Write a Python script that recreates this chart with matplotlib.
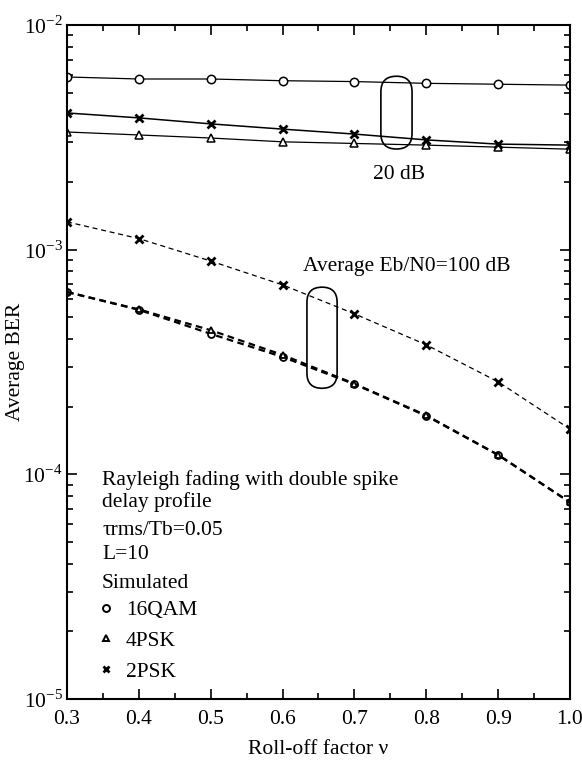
import math
import matplotlib
matplotlib.use("Agg")
import matplotlib.pyplot as plt
from matplotlib.lines import Line2D
from matplotlib.patches import FancyBboxPatch
from matplotlib.ticker import LogLocator, FixedLocator, FuncFormatter, NullFormatter

plt.rcParams['font.family'] = ['Liberation Serif', 'DejaVu Serif']
plt.rcParams['mathtext.fontset'] = 'custom'
plt.rcParams['mathtext.rm'] = 'Liberation Serif'

rolloff = [0.3, 0.4, 0.5, 0.6, 0.7, 0.8, 0.9, 1.0]

# Average Eb/N0 = 20 dB
qam16_20 = [5.87e-3, 5.75e-3, 5.75e-3, 5.65e-3, 5.6e-3, 5.5e-3, 5.45e-3, 5.4e-3]
psk4_20 = [3.34e-3, 3.24e-3, 3.14e-3, 3.02e-3, 2.97e-3, 2.92e-3, 2.86e-3, 2.8e-3]
psk2_20 = [4.06e-3, 3.86e-3, 3.63e-3, 3.44e-3, 3.27e-3, 3.08e-3, 2.95e-3, 2.92e-3]

# Average Eb/N0 = 100 dB
qam16_100 = [6.48e-4, 5.4e-4, 4.22e-4, 3.33e-4, 2.52e-4, 1.82e-4, 1.22e-4, 7.5e-5]
psk4_100 = [6.48e-4, 5.42e-4, 4.38e-4, 3.4e-4, 2.53e-4, 1.83e-4, 1.22e-4, 7.5e-5]
psk2_100 = [1.33e-3, 1.12e-3, 8.9e-4, 6.97e-4, 5.18e-4, 3.77e-4, 2.58e-4, 1.59e-4]

legend_labels = ['16QAM', '4PSK', '2PSK']
xticks = [0.3, 0.4, 0.5, 0.6, 0.7, 0.8, 0.9, 1.0]

FS = 15.5

fig = plt.figure(figsize=(5.82, 7.6), dpi=100)
ax = fig.add_axes([0.1151, 0.0803, 0.8643, 0.8868])

mk = dict(markerfacecolor='white', markeredgecolor='black', color='black')
# 20 dB solid
ax.plot(rolloff, qam16_20, '-', marker='o', ms=6, mew=1.1, lw=0.9, **mk)
ax.plot(rolloff, psk4_20, '-', marker='^', ms=6, mew=1.1, lw=0.9, **mk)
ax.plot(rolloff, psk2_20, '-', marker='x', ms=6, mew=2.0, lw=1.1, color='black')
# 100 dB dashed
ax.plot(rolloff, psk2_100, '--', marker='x', ms=6, mew=2.0, lw=0.9, color='black', dashes=(4, 3))
ax.plot(rolloff, qam16_100, '--', marker='o', ms=5, mew=1.3, lw=1.6, dashes=(3, 2), **mk)
ax.plot(rolloff, psk4_100, '--', marker='^', ms=5, mew=1.3, lw=1.6, dashes=(3, 2), **mk)

ax.set_yscale('log')
ax.set_ylim(1e-5, 1e-2)
ax.set_xlim(0.3, 1.0)
ax.xaxis.set_major_locator(FixedLocator(xticks))
ax.xaxis.set_minor_locator(FixedLocator([0.35, 0.45, 0.55, 0.65, 0.75, 0.85, 0.95]))
ax.xaxis.set_major_formatter(FuncFormatter(lambda v, p: f"{v:.1f}"))
ax.yaxis.set_major_locator(LogLocator(base=10, numticks=10))
ax.yaxis.set_minor_locator(LogLocator(base=10, subs=range(2, 10), numticks=20))
ax.yaxis.set_minor_formatter(NullFormatter())
ax.yaxis.set_major_formatter(FuncFormatter(lambda v, p: r"$\mathrm{10}^{%d}$" % round(math.log10(v))))
ax.tick_params(which='both', direction='in', top=True, right=True, labelsize=FS, width=1.2)
ax.tick_params(which='major', length=7)
ax.tick_params(which='minor', length=4)
ax.tick_params(axis='x', pad=8)
ax.tick_params(axis='y', pad=3)
for s in ax.spines.values():
    s.set_linewidth(1.5)

ax.set_xlabel('Roll-off factor ν', fontsize=FS, labelpad=8)
ax.set_ylabel('Average BER', fontsize=FS)
ax.yaxis.set_label_coords(-0.083, 0.5)

asp = (0.8643 * 582) / (0.8868 * 760)
b1 = FancyBboxPatch((0.624, 0.816), 0.062, 0.108, boxstyle='round,pad=0,rounding_size=0.031',
                    transform=ax.transAxes, mutation_aspect=asp, fill=False, lw=1.2, ec='black')
b2 = FancyBboxPatch((0.477, 0.461), 0.060, 0.150, boxstyle='round,pad=0,rounding_size=0.030',
                    transform=ax.transAxes, mutation_aspect=asp, fill=False, lw=1.2, ec='black')
ax.add_patch(b1)
ax.add_patch(b2)

ax.text(0.762, 2.15e-3, '20 dB', fontsize=FS, ha='center', va='center')
ax.text(0.628, 8.4e-4, 'Average Eb/N0=100 dB', fontsize=FS, ha='left', va='center')

tx = (102 - 67) / 503
def yf(py):
    return 1 - (py - 25) / 674
ax.text(tx, yf(480), 'Rayleigh fading with double spike', transform=ax.transAxes, fontsize=FS, va='center')
ax.text(tx, yf(502), 'delay profile', transform=ax.transAxes, fontsize=FS, va='center')
ax.text(tx, yf(531), 'τrms/Tb=0.05', transform=ax.transAxes, fontsize=FS, va='center')
ax.text(tx, yf(555), 'L=10', transform=ax.transAxes, fontsize=FS, va='center')
ax.text(tx, yf(584), 'Simulated', transform=ax.transAxes, fontsize=FS, va='center')

handles = [Line2D([], [], ls='none', marker='o', ms=5, mew=1.4, mfc='white', mec='black'),
           Line2D([], [], ls='none', marker='^', ms=5, mew=1.4, mfc='white', mec='black'),
           Line2D([], [], ls='none', marker='x', ms=5, mew=2.0, color='black')]
leg = ax.legend(handles, legend_labels, loc='upper left',
                bbox_to_anchor=((97 - 67) / 503, yf(600)), frameon=False, fontsize=FS,
                handlelength=0.8, handletextpad=0.55, labelspacing=0.5,
                borderpad=0, borderaxespad=0)

fig.savefig('out.png', dpi=100)
